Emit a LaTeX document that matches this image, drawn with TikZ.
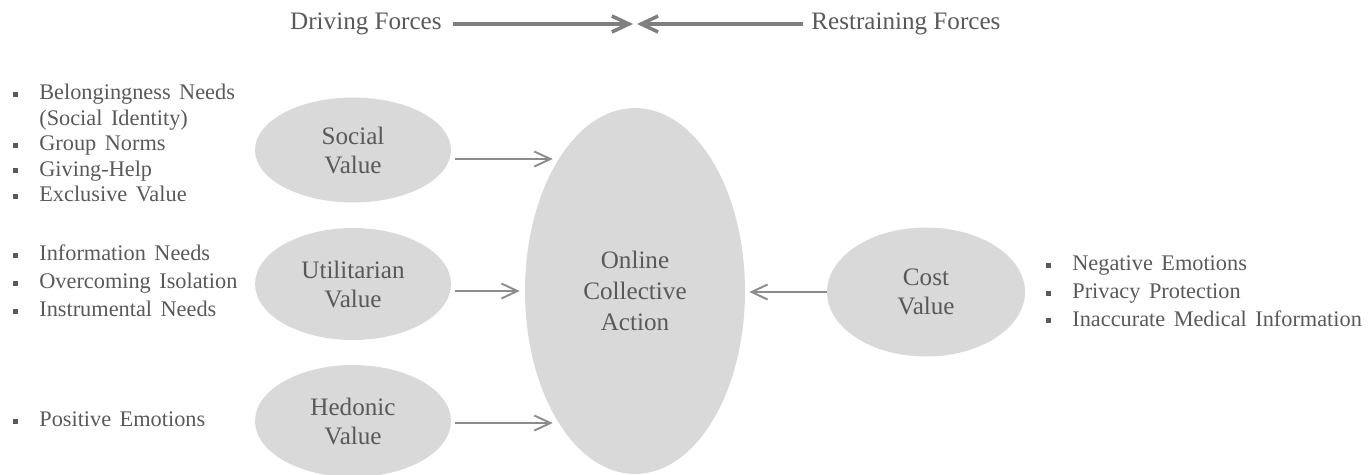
\documentclass[tikz,border=0pt]{standalone}
\usepackage{fontspec}
\setmainfont{Liberation Serif}
\usepackage{xcolor}
\definecolor{colorText}{HTML}{595959}
\definecolor{colorFill}{HTML}{D9D9D9}
\definecolor{colorArrow}{HTML}{8C8C8C}
\definecolor{colorForce}{HTML}{7F7F7F}
\usetikzlibrary{arrows.meta, positioning, shapes.geometric}
\newcommand{\itemmark}{\makebox[0.52cm][l]{\raisebox{0.055cm}{\rule{0.1cm}{0.1cm}}}}
\tikzset{
  value/.style={ellipse, fill=colorFill, text=colorText, inner sep=0pt, align=center, font=\fontsize{14.3}{16.5}\selectfont},
  factors/.style={anchor=west, inner sep=0pt, text=colorText, align=left, font=\fontsize{12.7}{15.8}\selectfont,
    execute at begin node={\spaceskip=0.38em\relax}},
  forcelabel/.style={inner sep=0pt, text=colorText, font=\fontsize{14.3}{16}\selectfont},
  flow/.style={-{Straight Barb[length=0.32cm,width=0.3cm]}, colorArrow, line width=1.1pt},
  force/.style={-{Straight Barb[length=0.34cm,width=0.32cm]}, colorForce, line width=2pt},
}

\begin{document}
\begin{tikzpicture}[x=0.02cm, y=-0.02cm]
\useasboundingbox (0,0) rectangle (1371,474);
% forces
\node[forcelabel, anchor=east] (driving) at (442,24) {Driving Forces};
\node[forcelabel, anchor=west] (restraining) at (811,24) {Restraining Forces};
\coordinate (balance) at (635,24);
\draw[force, shorten <=0.22cm, shorten >=0.04cm] (driving.east) -- (balance);
\draw[force, shorten <=0.16cm, shorten >=0.04cm] (restraining.west) -- (balance);
% values
\node[value, minimum width=3.92cm, minimum height=2.1cm] (social) at (353,150) {Social\\Value};
\node[value, minimum width=3.92cm, minimum height=2.24cm] (utilitarian) at (353,284) {Utilitarian\\Value};
\node[value, minimum width=3.92cm, minimum height=2.24cm] (hedonic) at (353,421) {Hedonic\\Value};
\node[value, minimum width=4.4cm, minimum height=7.32cm, font=\fontsize{14.3}{17.6}\selectfont] (online) at (635,291) {Online\\Collective\\Action};
\node[value, minimum width=3.96cm, minimum height=2.58cm] (cost) at (926,292) {Cost\\Value};
% factor lists
\node[factors, font=\fontsize{12.7}{14.5}\selectfont] (social-list) at (13,143) {\itemmark Belongingness Needs\\\makebox[0.52cm]{}(Social Identity)\\\itemmark Group Norms\\\itemmark Giving-Help\\\itemmark Exclusive Value};
\node[factors] (utilitarian-list) at (13,281) {\itemmark Information Needs\\\itemmark Overcoming Isolation\\\itemmark Instrumental Needs};
\node[factors] (hedonic-list) at (13,419) {\itemmark Positive Emotions};
\node[factors] (cost-list) at (1046,291) {\itemmark Negative Emotions\\\itemmark Privacy Protection\\\itemmark Inaccurate Medical Information};
% arrows
\coordinate (social-out) at ([yshift=-0.18cm]social.east);
\coordinate (utilitarian-out) at ([yshift=-0.14cm]utilitarian.east);
\coordinate (hedonic-out) at ([yshift=-0.04cm]hedonic.east);
\draw[flow, shorten <=0.08cm, shorten >=0.12cm] (social-out) -- (social-out -| online.120);
\draw[flow, shorten <=0.08cm, shorten >=0.1cm] (utilitarian-out) -- (utilitarian-out -| online.west);
\draw[flow, shorten <=0.08cm, shorten >=0.12cm] (hedonic-out) -- (hedonic-out -| online.240);
\draw[flow, shorten >=0.08cm] (cost.west) -- (cost.west -| online.east);
\end{tikzpicture}
\end{document}
